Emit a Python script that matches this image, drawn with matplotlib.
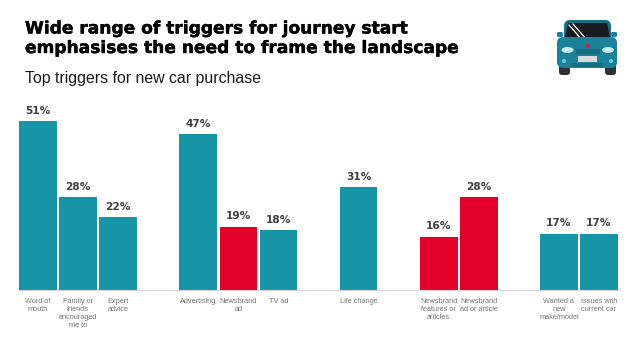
import matplotlib
matplotlib.use('Agg')
import matplotlib.pyplot as plt
import matplotlib.patheffects as pe
from matplotlib.patches import FancyBboxPatch, Rectangle, Ellipse, Polygon, Circle

W, H = 638, 359
TEAL = '#1595a6'
RED = '#e2002b'

# slot position of each bar, gaps between the groups are empty slots
slots = [0, 1, 2, 4, 5, 6, 8, 10, 11, 13, 14]
values = [51, 28, 22, 47, 19, 18, 31, 16, 28, 17, 17]
is_newsbrand = [False, False, False, False, True, False, False, True, True, False, False]
labels = ['Word of\nmouth', 'Family or\nfriends\nencouraged\nme to', 'Expert\nadvice',
          'Advertising', 'Newsbrand\nad', 'TV ad', 'Life change',
          'Newsbrand\nfeatures or\narticles', 'Newsbrand\nad or article',
          'Wanted a\nnew\nmake/model', 'Issues with\ncurrent car']

plt.rcParams['font.family'] = ['Liberation Sans', 'DejaVu Sans']
fig = plt.figure(figsize=(W / 100, H / 100), dpi=100, facecolor='white')

# plot area in pixels: left 18, right 619, baseline at y=290, top at y=100
ax = fig.add_axes([18 / W, (H - 290) / H, 601 / W, 190 / H])
ax.set_xlim(-0.5, 14.5)
ax.set_ylim(0, 190 / 3.31)
colors = [RED if n else TEAL for n in is_newsbrand]
ax.bar(slots, values, width=0.94, color=colors, linewidth=0)
for x, v in zip(slots, values):
    ax.text(x, v + 1.7, f'{v}%', ha='center', va='bottom', fontsize=7.6,
            fontweight='bold', color='#404040', family='DejaVu Sans')
for x, lab in zip(slots, labels):
    ax.text(x, -2.3, lab, ha='center', va='top', fontsize=5.3, color='#777777',
            linespacing=1.2)
for s in ['top', 'left', 'right']:
    ax.spines[s].set_visible(False)
ax.spines['bottom'].set_color('#d4d4d4')
ax.spines['bottom'].set_linewidth(0.8)
ax.set_xticks([])
ax.set_yticks([])

# headings
heavy = [pe.withStroke(linewidth=0.3, foreground='black')]
fig.text(25 / W, 1 - 33.5 / H, 'Wide range of triggers for journey start', fontsize=12.28,
         fontweight='bold', color='black', va='baseline', family='DejaVu Sans', path_effects=heavy)
fig.text(25 / W, 1 - 53 / H, 'emphasises the need to frame the landscape', fontsize=12.28,
         fontweight='bold', color='black', va='baseline', family='DejaVu Sans', path_effects=heavy)
fig.text(25 / W, 1 - 83 / H, 'Top triggers for new car purchase', fontsize=11.4,
         color='#1a1a1a', va='baseline')

# car icon, in pixel coordinates
car = fig.add_axes([0, 0, 1, 1], facecolor='none')
car.set_xlim(0, W)
car.set_ylim(H, 0)
car.axis('off')
body = '#1b8198'
dark = '#176d82'
for wx in [559, 605]:
    car.add_patch(FancyBboxPatch((wx, 64), 11, 11, boxstyle='round,pad=0,rounding_size=3', fc='#2e3136', lw=0))
for mx in [557, 611]:
    car.add_patch(FancyBboxPatch((mx, 32), 6, 5, boxstyle='round,pad=0,rounding_size=1.5', fc=body, lw=0))
car.add_patch(FancyBboxPatch((564, 20), 47, 24, boxstyle='round,pad=0,rounding_size=6', fc=dark, lw=0))
car.add_patch(FancyBboxPatch((557, 37), 60, 31, boxstyle='round,pad=0,rounding_size=6', fc=body, lw=0))
car.add_patch(Polygon([(568, 23), (607, 23), (610, 37), (565, 37)], fc='#1a1a1e', lw=0))
car.add_line(plt.Line2D([569, 579], [25, 36.5], color='white', lw=0.9))
car.add_line(plt.Line2D([573, 584], [24, 36.5], color='white', lw=0.9))
car.add_patch(Ellipse((567.5, 50), 12, 6, fc='#c5eaf0', lw=0))
car.add_patch(Ellipse((608, 50), 12, 6, fc='#c5eaf0', lw=0))
car.add_patch(Circle((588, 46), 2.2, fc='#b0324a', lw=0))
car.add_patch(Rectangle((576, 49), 24, 5, fc=dark, lw=0))
car.add_patch(Rectangle((578, 56), 19, 6, fc='#d5dadc', lw=0))
car.add_patch(Rectangle((572, 63), 31, 4, fc=dark, lw=0))
car.add_patch(Circle((564, 61), 2, fc='#5fd6e4', lw=0))
car.add_patch(Circle((611, 61), 2, fc='#5fd6e4', lw=0))

fig.savefig('out.png', dpi=100)
